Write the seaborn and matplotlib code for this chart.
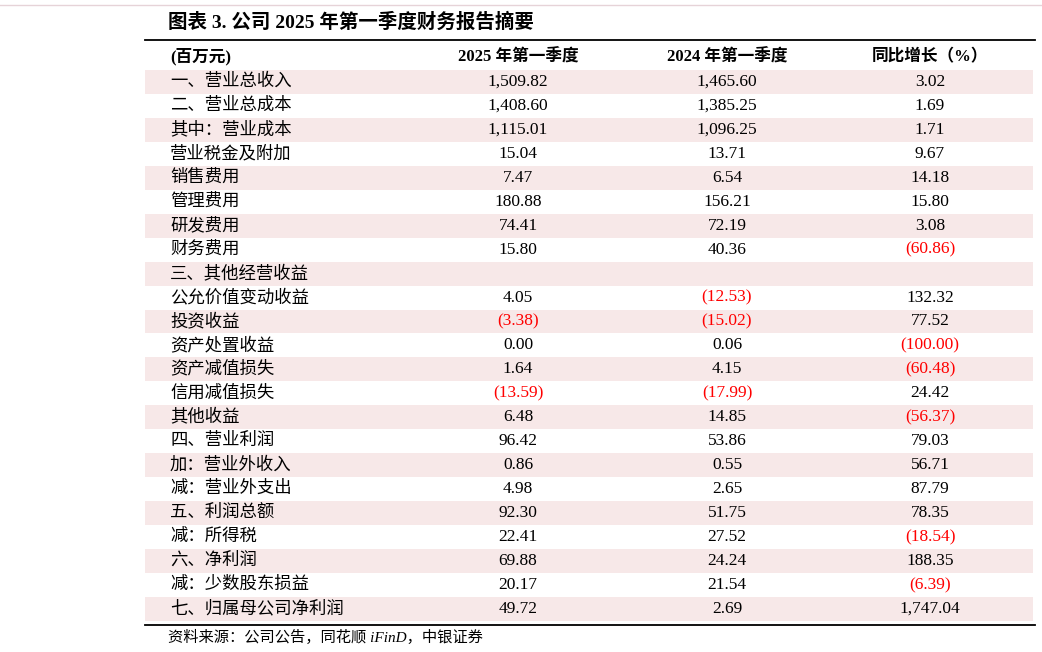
import matplotlib.pyplot as plt
import seaborn as sns
import numpy as np

labels = ["一、营业总收入", "二、营业总成本", "其中：营业成本", "营业税金及附加", "销售费用",
          "管理费用", "研发费用", "财务费用", "三、其他经营收益", "公允价值变动收益",
          "投资收益", "资产处置收益", "资产减值损失", "信用减值损失", "其他收益",
          "四、营业利润", "加：营业外收入", "减：营业外支出", "五、利润总额", "减：所得税",
          "六、净利润", "减：少数股东损益", "七、归属母公司净利润"]
q1_2025 = [1509.82, 1408.60, 1115.01, 15.04, 7.47, 180.88, 74.41, 15.80, None, 4.05,
           -3.38, 0.00, 1.64, -13.59, 6.48, 96.42, 0.86, 4.98, 92.30, 22.41,
           69.88, 20.17, 49.72]
q1_2024 = [1465.60, 1385.25, 1096.25, 13.71, 6.54, 156.21, 72.19, 40.36, None, -12.53,
           -15.02, 0.06, 4.15, -17.99, 14.85, 53.86, 0.55, 2.65, 51.75, 27.52,
           24.24, 21.54, 2.69]
yoy = [3.02, 1.69, 1.71, 9.67, 14.18, 15.80, 3.08, -60.86, None, 132.32,
       77.52, -100.00, -60.48, 24.42, -56.37, 79.03, 56.71, 87.79, 78.35, -18.54,
       188.35, -6.39, 1747.04]
headers = ["(百万元)", "2025 年第一季度", "2024 年第一季度", "同比增长（%）"]

FONT = ["Liberation Serif", "Noto Sans CJK SC"]
W, H = 1042, 652
top, step = 70, 23.95
n = len(labels)

fig = plt.figure(figsize=(W / 100, H / 100), dpi=100)

# striped row background drawn as a heatmap
hax = fig.add_axes([145 / W, 1 - (top + n * step) / H, (1033 - 145) / W, n * step / H])
stripes = np.array([[1 - (i % 2)] for i in range(n)])
sns.heatmap(stripes, ax=hax, cmap=["#ffffff", "#f7e8e8"], cbar=False,
            xticklabels=False, yticklabels=False, vmin=0, vmax=1)
hax.set_axis_off()

ax = fig.add_axes([0, 0, 1, 1], facecolor="none")
ax.set_xlim(0, W)
ax.set_ylim(H, 0)
ax.axis("off")

ax.plot([0, W], [5, 5], color="#e6d3d8", lw=1)
ax.text(168, 22, "图表 3. 公司 2025 年第一季度财务报告摘要", fontsize=14, fontweight="bold",
        family=FONT, va="center", ha="left")
ax.plot([145, 1035], [40, 40], color="black", lw=1.3)
ax.plot([145, 1035], [top + n * step + 4, top + n * step + 4], color="black", lw=1.3)

hx = [170, 518, 727, 930]
ax.text(hx[0], 57, headers[0], fontsize=12, fontweight="bold", family=FONT, va="center", ha="left")
for x, h in zip(hx[1:], headers[1:]):
    ax.text(x, 57, h, fontsize=12, fontweight="bold", family=FONT, va="center", ha="center")


def fmt(v):
    if v is None:
        return "", "black"
    s = f"{abs(v):,.2f}"
    return (f"({s})", "red") if v < 0 else (s, "black")


for i, lab in enumerate(labels):
    y = top + step * (i + 0.5)
    ax.text(hx[0], y, lab, fontsize=12.5, family=FONT, va="center", ha="left")
    for x, vals in zip(hx[1:], [q1_2025, q1_2024, yoy]):
        s, c = fmt(vals[i])
        ax.text(x, y, s, fontsize=12.5, family=FONT, va="center", ha="center", color=c)

ax.text(168, 637, "资料来源：公司公告，同花顺 iFinD，中银证券", fontsize=11, style="italic",
        family=FONT, va="center", ha="left")

fig.savefig("out.png", dpi=100)
